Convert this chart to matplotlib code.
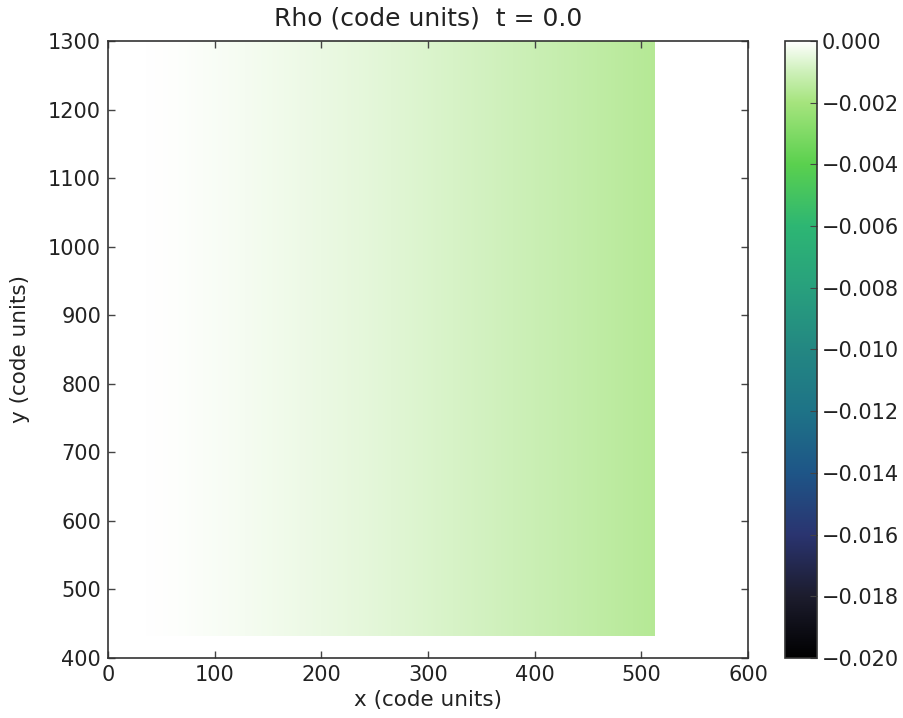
import numpy as np
import matplotlib
matplotlib.use("Agg")
import matplotlib.pyplot as plt
from matplotlib.colors import LinearSegmentedColormap

# Density perturbation profile along x (code units); uniform in y
x_nodes = [0, 32, 64, 96, 128, 160, 192, 224, 256, 288, 320, 352, 384, 416, 448, 480, 512]
rho_profile = [0.0, 0.0, -0.00004, -0.00012, -0.00020, -0.00029, -0.00038, -0.00047,
               -0.00057, -0.00068, -0.00079, -0.00090, -0.00102, -0.00115, -0.00129,
               -0.00144, -0.00160]
x_extent = [0, 512]
y_extent = [432, 1300]

vmin, vmax = -0.020, 0.0
cbar_ticks = [-0.020, -0.018, -0.016, -0.014, -0.012, -0.010, -0.008, -0.006, -0.004, -0.002, 0.000]

cmap_stops = [
    (0.00, (0, 0, 0)),
    (0.10, (28, 28, 45)),
    (0.20, (42, 52, 112)),
    (0.30, (30, 85, 135)),
    (0.40, (30, 115, 135)),
    (0.50, (35, 135, 130)),
    (0.60, (40, 160, 125)),
    (0.70, (45, 182, 115)),
    (0.80, (90, 208, 78)),
    (0.90, (165, 228, 125)),
    (0.95, (205, 240, 185)),
    (1.00, (255, 255, 255)),
]
cmap = LinearSegmentedColormap.from_list(
    "rho", [(p, tuple(c / 255 for c in rgb)) for p, rgb in cmap_stops], N=4096)

plt.rcParams['font.family'] = ['DejaVu Sans']
plt.rcParams['xtick.direction'] = 'in'
plt.rcParams['ytick.direction'] = 'in'

fig = plt.figure(figsize=(9.04, 7.18), dpi=100)
ax = fig.add_axes([0.1195, 0.0836, 0.7079, 0.8593])
cax = fig.add_axes([0.8684, 0.0836, 0.0354, 0.8593])

# resample the profile on a fine grid and stack it along y
xs = np.linspace(x_extent[0], x_extent[1], 512)
row = np.interp(xs, x_nodes, rho_profile)
field = np.tile(row, (8, 1))

im = ax.imshow(field, extent=[x_extent[0], x_extent[1], y_extent[0], y_extent[1]],
               origin='lower', aspect='auto', cmap=cmap, vmin=vmin, vmax=vmax,
               interpolation='bilinear')
ax.set_xlim(0, 600)
ax.set_ylim(400, 1300)
ax.set_xticks(range(0, 601, 100))
ax.set_yticks(range(400, 1301, 100))
ax.tick_params(top=True, right=True, labelsize=15, length=5, width=1, colors='#444444',
               labelcolor='#222222', pad=5)
ax.tick_params(axis='x', pad=5)
for s in ax.spines.values():
    s.set_color('#333333')
    s.set_linewidth(1.2)

ax.set_title("Rho (code units)  t = 0.0", fontsize=18, color='#222222', pad=11)
ax.set_xlabel("x (code units)", fontsize=15.5, color='#222222', labelpad=4)
ax.set_ylabel("y (code units)", fontsize=15.5, color='#222222', labelpad=13)

cb = fig.colorbar(im, cax=cax, ticks=cbar_ticks)
cb.ax.set_yticklabels([("%.3f" % t).replace("-", "\u2212") for t in cbar_ticks])
cb.ax.tick_params(labelsize=15, direction='in', length=5, colors='#444444', labelcolor='#222222')
cb.outline.set_edgecolor('#333333')
cb.outline.set_linewidth(1.2)

fig.savefig("out.png", dpi=100, facecolor='white')
